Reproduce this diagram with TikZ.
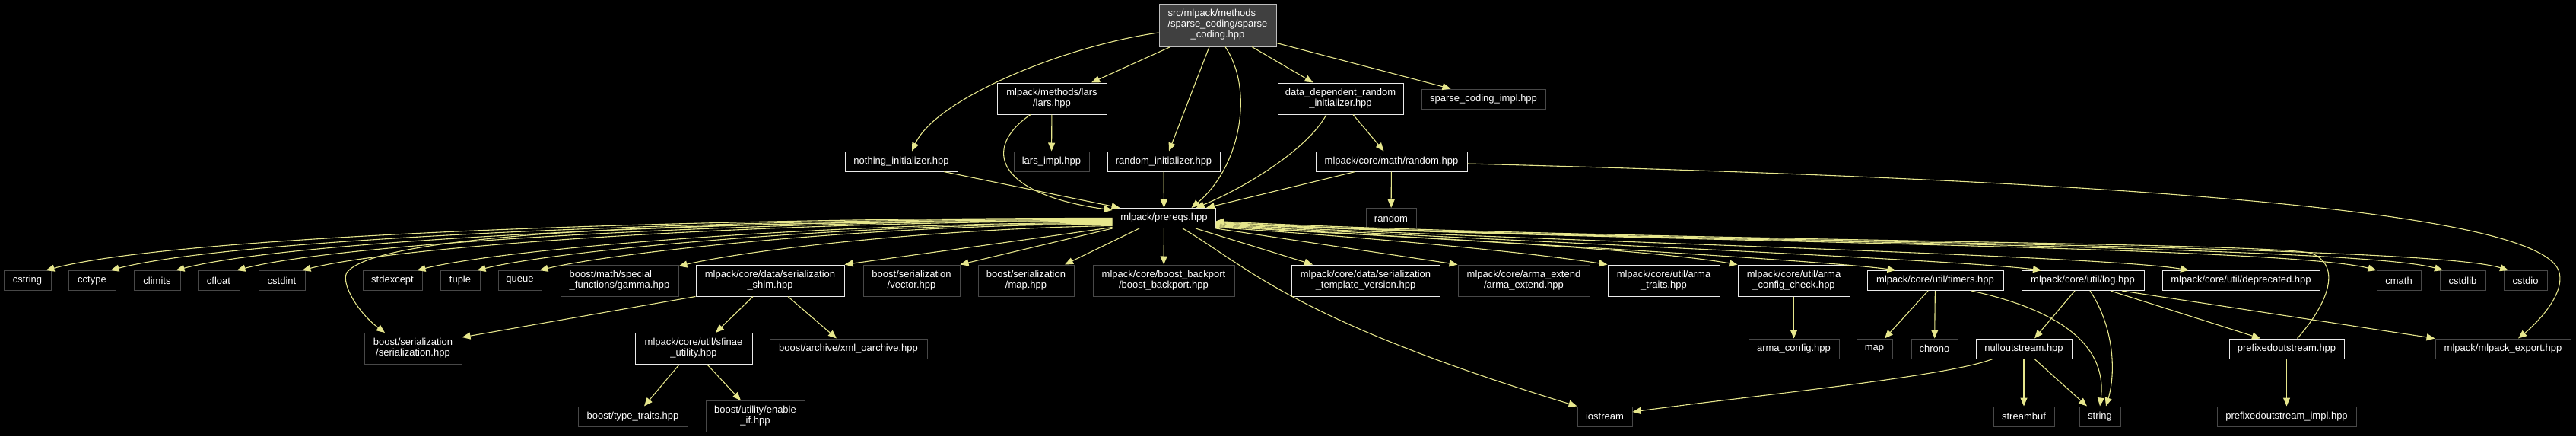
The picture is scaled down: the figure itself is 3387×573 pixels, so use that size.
\documentclass[tikz,border=0pt]{standalone}
\usepackage{fontspec}
\setmainfont{Liberation Sans}
\usetikzlibrary{arrows.meta}
\definecolor{edgec}{RGB}{230,230,140}
\definecolor{mainfill}{RGB}{64,64,64}
\definecolor{mainborder}{RGB}{191,191,191}
\definecolor{dimborder}{RGB}{72,72,72}
\definecolor{wborder}{RGB}{235,235,235}
\newcommand{\twoline}[2]{\begin{tabular}{@{}l@{}}#1\\\multicolumn{1}{@{}c@{}}{#2}\end{tabular}}
\newcommand{\threeline}[3]{\begin{tabular}{@{}l@{}}#1\\#2\\\multicolumn{1}{@{}c@{}}{#3}\end{tabular}}
\begin{document}
\begin{tikzpicture}[x=1pt,y=-1pt,
  nbox/.style={font=\fontsize{13}{14}\selectfont, text=white, inner sep=0pt, line width=1pt, minimum height=26},
  wn/.style={nbox, draw=wborder, fill=black},
  dn/.style={nbox, draw=dimborder, fill=black},
  mn/.style={nbox, draw=mainborder, fill=mainfill},
  two/.style={minimum height=41},
  conn/.style={draw=edgec, line width=1.1pt, -{Triangle[length=11pt,width=9pt]}}
]
\useasboundingbox (0,0) rectangle (3387,573);
\fill[black] (0,0) rectangle (3387,573);

% level 0-2
\node[mn, minimum width=154, minimum height=56] (main) at (1601,33) {\threeline{src/mlpack/methods}{/sparse\_coding/sparse}{\_coding.hpp}};
\node[wn, two, minimum width=144] (lars) at (1383,129.5) {\twoline{mlpack/methods/lars}{/lars.hpp}};
\node[wn, two, minimum width=165] (dd) at (1762.5,129.5) {\twoline{data\_dependent\_random}{\_initializer.hpp}};
\node[dn, minimum width=163] (sci) at (1950.5,130) {sparse\_coding\_impl.hpp};
\node[wn, minimum width=148] (nothing) at (1185,212) {nothing\_initializer.hpp};
\node[dn, minimum width=99] (larsimpl) at (1382.5,212) {lars\_impl.hpp};
\node[wn, minimum width=148] (randinit) at (1530,212) {random\_initializer.hpp};
\node[wn, minimum width=199] (randhpp) at (1829.5,212) {mlpack/core/math/random.hpp};
\node[wn, minimum width=135] (prereqs) at (1530.5,286.5) {mlpack/prereqs.hpp};
\node[dn, minimum width=66] (random) at (1829,286.5) {random};

% row 3
\node[dn, minimum width=62] (cstring) at (36,368.5) {cstring};
\node[dn, minimum width=62] (cctype) at (121,368.5) {cctype};
\node[dn, minimum width=61] (climits) at (206.5,368.5) {climits};
\node[dn, minimum width=55] (cfloat) at (287.5,368.5) {cfloat};
\node[dn, minimum width=61] (cstdint) at (370.5,368.5) {cstdint};
\node[dn, minimum width=78] (stdexcept) at (516,368.5) {stdexcept};
\node[dn, minimum width=52] (tuple) at (605,368.5) {tuple};
\node[dn, minimum width=57] (queue) at (683.5,368.5) {queue};
\node[dn, two, minimum width=155] (gamma) at (814.5,368.5) {\twoline{boost/math/special}{\_functions/gamma.hpp}};
\node[wn, two, minimum width=195] (shim) at (1012.5,368.5) {\twoline{mlpack/core/data/serialization}{\_shim.hpp}};
\node[dn, two, minimum width=127] (vector) at (1198.5,368.5) {\twoline{boost/serialization}{/vector.hpp}};
\node[dn, two, minimum width=126] (bmap) at (1349,368.5) {\twoline{boost/serialization}{/map.hpp}};
\node[dn, two, minimum width=186] (backport) at (1530,368.5) {\twoline{mlpack/core/boost\_backport}{/boost\_backport.hpp}};
\node[wn, two, minimum width=195] (tversion) at (1795.5,368.5) {\twoline{mlpack/core/data/serialization}{\_template\_version.hpp}};
\node[dn, two, minimum width=173] (armaext) at (2003.5,368.5) {\twoline{mlpack/core/arma\_extend}{/arma\_extend.hpp}};
\node[wn, two, minimum width=147] (armatraits) at (2187.5,368.5) {\twoline{mlpack/core/util/arma}{\_traits.hpp}};
\node[wn, two, minimum width=147] (armacc) at (2358.5,368.5) {\twoline{mlpack/core/util/arma}{\_config\_check.hpp}};
\node[wn, minimum width=179] (timers) at (2544.5,368.5) {mlpack/core/util/timers.hpp};
\node[wn, minimum width=161] (log) at (2738.5,368.5) {mlpack/core/util/log.hpp};
\node[wn, minimum width=207] (deprecated) at (2946.5,368.5) {mlpack/core/util/deprecated.hpp};
\node[dn, minimum width=58] (cmath) at (3154,368.5) {cmath};
\node[dn, minimum width=60] (cstdlib) at (3238,368.5) {cstdlib};
\node[dn, minimum width=57] (cstdio) at (3320.5,368.5) {cstdio};

% row 4
\node[dn, two, minimum width=128] (bser) at (543,458) {\twoline{boost/serialization}{/serialization.hpp}};
\node[wn, two, minimum width=154] (sfinae) at (912,458) {\twoline{mlpack/core/util/sfinae}{\_utility.hpp}};
\node[dn, minimum width=207] (xml) at (1115.5,458) {boost/archive/xml\_oarchive.hpp};
\node[dn, minimum width=119] (armaconfig) at (2358.5,458) {arma\_config.hpp};
\node[dn, minimum width=47] (map) at (2464.5,458) {map};
\node[dn, minimum width=61] (chrono) at (2543.5,458) {chrono};
\node[wn, minimum width=126] (nullout) at (2661,458) {nulloutstream.hpp};
\node[wn, minimum width=151] (prefixed) at (3006.5,458) {prefixedoutstream.hpp};
\node[dn, minimum width=178] (mlexport) at (3291,458) {mlpack/mlpack\_export.hpp};

% row 5
\node[dn, minimum width=144] (typetraits) at (832,547) {boost/type\_traits.hpp};
\node[dn, two, minimum width=130] (enableif) at (993,547) {\twoline{boost/utility/enable}{\_if.hpp}};
\node[dn, minimum width=72] (iostream) at (2110,547) {iostream};
\node[dn, minimum width=80] (streambuf) at (2661,547) {streambuf};
\node[dn, minimum width=54] (string) at (2761,547) {string};
\node[dn, minimum width=183] (pimpl) at (3006.5,547) {prefixedoutstream\_impl.hpp};

% edges from main
\draw[conn] ([xshift=-62pt]main.south) -- ([xshift=52pt]lars.north);
\draw[conn] ([yshift=-10pt]main.west) .. controls (1400,60) and (1230,130) .. ([xshift=14pt]nothing.north);
\draw[conn] ([xshift=-11pt]main.south) -- ([xshift=7pt]randinit.north);
\draw[conn] ([xshift=10pt]main.south) .. controls (1650,120) and (1630,220) .. ([xshift=36pt]prereqs.north);
\draw[conn] ([xshift=45pt]main.south) -- ([xshift=-36pt]dd.north);
\draw[conn] ([yshift=5pt]main.south east) -- ([xshift=-43pt]sci.north);

% second level
\draw[conn] (lars) -- (larsimpl);
\draw[conn] ([xshift=-28pt]lars.south) .. controls (1290,195) and (1310,255) .. ([yshift=-3pt]prereqs.north west);
\draw[conn] ([xshift=56pt]nothing.south) -- ([xshift=10pt]prereqs.north west);
\draw[conn] (randinit) -- (prereqs);
\draw[conn] ([xshift=-18.5pt]dd.south) .. controls (1720,195) and (1640,245) .. ([xshift=42pt]prereqs.north);
\draw[conn] ([xshift=16.5pt]dd.south) -- ([xshift=-10pt]randhpp.north);
\draw[conn] ([xshift=-47.5pt]randhpp.south) -- ([xshift=55.5pt]prereqs.north);
\draw[conn] (randhpp) -- (random);
\draw[conn] ([yshift=-3pt]randhpp.east) .. controls (2700,235) and (3330,270) .. (3364,355) .. controls (3375,385) and (3335,425) .. ([xshift=20pt]mlexport.north);

% prereqs fan to the left
\draw[conn] (prereqs.west) .. controls (902,286) and (230,310) .. ([xshift=-7pt]cstring.north east);
\draw[conn] ([yshift=-1pt]prereqs.west) .. controls (936,287) and (306,313) .. ([xshift=-7pt]cctype.north east);
\draw[conn] ([yshift=-2pt]prereqs.west) .. controls (970,288) and (383,315) .. ([xshift=-6pt]climits.north east);
\draw[conn] ([yshift=-3pt]prereqs.west) .. controls (1002,289) and (454,318) .. ([xshift=-4pt]cfloat.north east);
\draw[conn] ([yshift=-4pt]prereqs.west) .. controls (1037,290) and (531,321) .. ([xshift=-4pt]cstdint.north east);
\draw[conn] ([yshift=-5pt]prereqs.west) .. controls (1000,289) and (500,300) .. (456,358) .. controls (448,372) and (470,410) .. ([xshift=-37pt]bser.north);
\draw[conn] ([yshift=-6pt]prereqs.west) .. controls (1097,292) and (665,326) .. ([xshift=-7pt]stdexcept.north east);
\draw[conn] ([yshift=-7pt]prereqs.west) .. controls (1129,293) and (736,328) .. ([xshift=-4pt]tuple.north east);
\draw[conn] ([yshift=-8pt]prereqs.west) .. controls (1161,294) and (809,331) .. ([xshift=-3pt]queue.north east);
\draw[conn] ([yshift=-10pt]prereqs.west) .. controls (1250,300) and (1000,325) .. ([yshift=-2pt]gamma.north east);
\draw[conn] ([yshift=-12pt]prereqs.west) .. controls (1350,315) and (1200,335) .. (shim.north east);

% prereqs downwards
\draw[conn] (prereqs.south west) -- (vector.north east);
\draw[conn] ([xshift=-32.5pt]prereqs.south) -- ([xshift=51pt]bmap.north);
\draw[conn] (prereqs) -- (backport);
\draw[conn] ([xshift=41.5pt]prereqs.south) -- ([xshift=-69.5pt]tversion.north);
\draw[conn] (prereqs.south east) -- (armaext.north west);
\draw[conn] ([xshift=24.5pt]prereqs.south) .. controls (1640,350) and (1700,420) .. (iostream.north west);

% prereqs fan to the right (passing below "random")
\draw[conn] ([yshift=-12pt]prereqs.east) .. controls (1800,312) and (2000,330) .. (armatraits.north west);
\draw[conn] ([yshift=-11pt]prereqs.east) .. controls (1850,312) and (2150,325) .. (armacc.north west);
\draw[conn] ([yshift=-10pt]prereqs.east) .. controls (1900,314) and (2400,342) .. ([xshift=-52pt]timers.north);
\draw[conn] ([yshift=-9pt]prereqs.east) .. controls (1950,315) and (2560,340) .. ([xshift=-54.5pt]log.north);
\draw[conn] ([yshift=-8pt]prereqs.east) .. controls (2000,316) and (2760,335) .. ([xshift=-68.5pt]deprecated.north);
\draw[conn] ([yshift=-7pt]prereqs.east) .. controls (2050,316) and (3000,322) .. (cmath.north west);
\draw[conn] ([yshift=-6pt]prereqs.east) .. controls (2050,317) and (3090,320) .. ([xshift=-26pt]cstdlib.north);
\draw[conn] ([yshift=-5pt]prereqs.east) .. controls (2050,318) and (3180,318) .. ([xshift=-22.5pt]cstdio.north);
\draw[conn] ([xshift=14pt]prefixed.north) .. controls (3060,400) and (3080,350) .. (3040,333) .. controls (3000,318) and (2100,316) .. ([yshift=-4pt]prereqs.east);

% lower edges
\draw[conn] (shim.south west) -- ([yshift=-6pt]bser.north east);
\draw[conn] ([xshift=-22.5pt]shim.south) -- ([xshift=29pt]sfinae.north);
\draw[conn] ([xshift=23.5pt]shim.south) -- ([xshift=-15.5pt]xml.north);
\draw[conn] ([xshift=-19pt]sfinae.south) -- ([xshift=15pt]typetraits.north);
\draw[conn] ([xshift=18pt]sfinae.south) -- ([xshift=-19pt]enableif.north);
\draw[conn] (armacc) -- (armaconfig);
\draw[conn] ([xshift=-9.5pt]timers.south) -- ([xshift=13.5pt]map.north);
\draw[conn] (timers) -- (chrono);
\draw[conn] ([xshift=47.5pt]timers.south) .. controls (2720,410) and (2770,460) .. (string.north);
\draw[conn] ([xshift=-10.5pt]log.south) -- ([xshift=14pt]nullout.north);
\draw[conn] ([xshift=9.5pt]log.south) .. controls (2780,430) and (2782,490) .. ([xshift=8pt]string.north);
\draw[conn] ([xshift=36.5pt]log.south) -- ([xshift=-34.5pt]prefixed.north);
\draw[conn] ([xshift=51.5pt]log.south) -- (mlexport.north west);
\draw[conn] ([xshift=-41pt]nullout.south) .. controls (2560,495) and (2300,520) .. ([yshift=6pt]iostream.east);
\draw[conn] (nullout) -- (streambuf);
\draw[conn] ([xshift=14pt]nullout.south) -- ([xshift=-17pt]string.north);
\draw[conn] (prefixed) -- (pimpl);
\end{tikzpicture}
\end{document}
